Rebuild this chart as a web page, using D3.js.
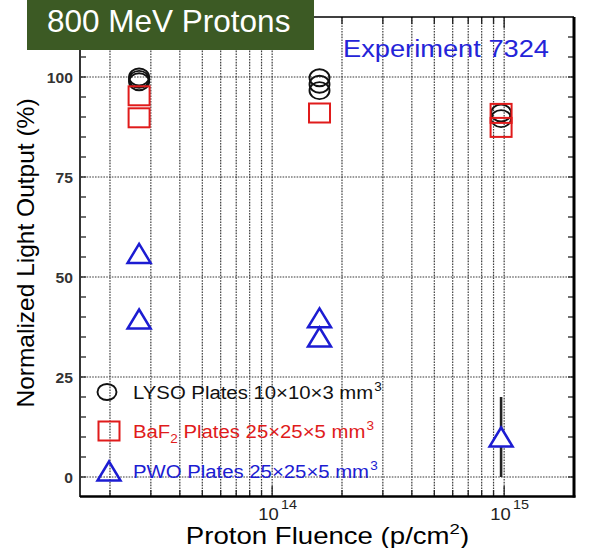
<!DOCTYPE html>
<html>
<head>
<meta charset="utf-8">
<script src="https://cdn.jsdelivr.net/npm/d3@7"></script>
<style>
  body { margin: 0; background: #fff; }
  svg { display: block; }
  text { font-family: "Liberation Sans", Arial, Helvetica, sans-serif; }
</style>
</head>
<body>
<svg id="chart" width="602" height="548"></svg>
<script>
// Normalized light output of crystal plates vs. 800 MeV proton fluence
const lysoFluence = [2.67e13, 2.67e13, 2.67e13, 1.6e14, 1.6e14, 1.6e14, 9.7e14, 9.7e14];
const lysoOutput  = [100, 99.4, 98.8, 99.8, 98.2, 96.6, 91.0, 89.6];

const bafFluence  = [2.67e13, 2.67e13, 1.6e14, 9.7e14, 9.7e14];
const bafOutput   = [95.3, 89.8, 91.0, 90.9, 87.4];

const pwoFluence  = [2.67e13, 2.67e13, 1.6e14, 1.6e14, 9.7e14];
const pwoOutput   = [55.9, 39.5, 39.8, 35.0, 10.0];
const pwoError    = [0, 0, 0, 0, 10];

const yTickValues = [0, 25, 50, 75, 100];
const xDecades    = [1e14, 1e15];
const xDecadeExp  = ["14", "15"];

const seriesNames = ["LYSO", "BaF", "PWO"];

const svg = d3.select("#chart");
const x = d3.scaleLog().domain([1.5e13, 2e15]).range([81, 574]);
const y = d3.scaleLinear().domain([-5, 115]).range([497, 17]);
const [x0, x1] = x.range();
const [yb, yt] = y.range();

const gridColor = "#3a3a3a";
const black = "#111";
const red = "#e01b1b";
const blue = "#1c1cd2";

// ---- grid ----
const xGrid = x.ticks().filter(v => v > x.domain()[0] && v < x.domain()[1] * 0.999);
const grid = svg.append("g");
grid.selectAll("line.vx").data(xGrid).join("line")
  .attr("x1", d => x(d)).attr("x2", d => x(d))
  .attr("y1", yt).attr("y2", yb)
  .attr("stroke", gridColor).attr("stroke-width", 1.2).attr("stroke-dasharray", "1.6,1.2");
grid.selectAll("line.hy").data(yTickValues).join("line")
  .attr("x1", x0).attr("x2", x1)
  .attr("y1", d => y(d)).attr("y2", d => y(d))
  .attr("stroke", gridColor).attr("stroke-width", 1.2).attr("stroke-dasharray", "1.6,1.2");

// ---- tick marks (inward) ----
const ticks = svg.append("g").attr("stroke", "#222").attr("stroke-width", 1.3);
const yMinor = d3.range(0, 115, 5);
ticks.selectAll("line.yl").data(yMinor).join("line")
  .attr("x1", x0).attr("x2", x0 + 5).attr("y1", d => y(d)).attr("y2", d => y(d));
ticks.selectAll("line.yr").data(yMinor).join("line")
  .attr("x1", x1).attr("x2", x1 - 6).attr("y1", d => y(d)).attr("y2", d => y(d));
const isDecade = v => Math.abs(Math.log10(v) - Math.round(Math.log10(v))) < 1e-9;
ticks.selectAll("line.xb").data(xGrid).join("line")
  .attr("x1", d => x(d)).attr("x2", d => x(d))
  .attr("y1", yb).attr("y2", d => yb - (isDecade(d) ? 11 : 7));
ticks.selectAll("line.xt").data(xGrid).join("line")
  .attr("x1", d => x(d)).attr("x2", d => x(d))
  .attr("y1", yt).attr("y2", d => yt + (isDecade(d) ? 11 : 7));

// ---- frame ----
const frame = svg.append("g").attr("stroke", "#000").attr("fill", "none");
frame.append("line").attr("x1", x0 - 1).attr("x2", x0 - 1).attr("y1", yt).attr("y2", yb).attr("stroke-width", 1.6);
frame.append("line").attr("x1", x0 - 1).attr("x2", x1).attr("y1", yt).attr("y2", yt).attr("stroke-width", 1.6);
frame.append("line").attr("x1", x1).attr("x2", x1).attr("y1", yt).attr("y2", yb + 0.5).attr("stroke-width", 3);
frame.append("line").attr("x1", x0 - 1).attr("x2", x1 + 1.5).attr("y1", yb - 0.5).attr("y2", yb - 0.5).attr("stroke-width", 2.6);

// ---- marker shapes ----
const triPath = "M0,-9.5L11.5,9.5L-11.5,9.5Z";

// error bars
const pwo = pwoFluence.map((f, i) => ({ f, v: pwoOutput[i], e: pwoError[i] }));
svg.append("g").selectAll("line").data(pwo.filter(d => d.e > 0)).join("line")
  .attr("x1", d => x(d.f)).attr("x2", d => x(d.f))
  .attr("y1", d => y(d.v - d.e)).attr("y2", d => y(d.v + d.e))
  .attr("stroke", "#222").attr("stroke-width", 2.6);

// LYSO circles
svg.append("g").selectAll("ellipse").data(lysoFluence.map((f, i) => ({ f, v: lysoOutput[i] }))).join("ellipse")
  .attr("cx", d => x(d.f)).attr("cy", d => y(d.v))
  .attr("rx", 10).attr("ry", 8.5)
  .attr("fill", "none").attr("stroke", black).attr("stroke-width", 1.9);

// BaF2 squares
svg.append("g").selectAll("rect").data(bafFluence.map((f, i) => ({ f, v: bafOutput[i] }))).join("rect")
  .attr("x", d => x(d.f) - 10.5).attr("y", d => y(d.v) - 9.5)
  .attr("width", 21).attr("height", 19)
  .attr("fill", "none").attr("stroke", red).attr("stroke-width", 2);

// PWO triangles
svg.append("g").selectAll("path").data(pwo).join("path")
  .attr("d", triPath)
  .attr("transform", d => `translate(${x(d.f)},${y(d.v)})`)
  .attr("fill", "#fff").attr("stroke", blue).attr("stroke-width", 2.5);

// ---- stretched text helper ----
function stext(px, py, sx, opts) {
  const g = svg.append("g").attr("transform", `translate(${px},${py}) scale(${sx},1)`);
  const t = g.append("text")
    .attr("font-size", opts.size)
    .attr("fill", opts.fill || "#000")
    .attr("text-anchor", opts.anchor || "start");
  if (opts.weight) t.attr("font-weight", opts.weight);
  return t;
}

// ---- y tick labels ----
yTickValues.forEach(v => {
  stext(73, y(v) + 6, 1.12, { size: 14, fill: "#333", anchor: "end", weight: "bold" }).text(v);
});

// ---- x tick labels ----
xDecades.forEach((v, i) => {
  const t = stext(x(v) - 14, 519.5, 1.15, { size: 16, fill: "#222" });
  t.append("tspan").text("10");
  t.append("tspan").attr("dx", 2).attr("dy", -11).attr("font-size", 12.5).text(xDecadeExp[i]);
});

// ---- axis titles ----
const xt = stext(327.5, 544, 1.2, { size: 23, anchor: "middle" });
xt.append("tspan").text("Proton Fluence (p/cm");
xt.append("tspan").attr("dy", -10).attr("font-size", 15.5).text("2");
xt.append("tspan").attr("dy", 10).text(")");

svg.append("text")
  .attr("transform", "translate(34,253) rotate(-90)")
  .attr("text-anchor", "middle")
  .attr("font-size", 24.5)
  .attr("fill", "#000")
  .text("Normalized Light Output (%)");

// ---- legend ----
const legendX = 109;
const legendRows = [392, 431, 471];
svg.append("ellipse").attr("cx", legendX - 2).attr("cy", legendRows[0]).attr("rx", 9.5).attr("ry", 8)
  .attr("fill", "none").attr("stroke", black).attr("stroke-width", 1.9);
svg.append("rect").attr("x", legendX - 10.5).attr("y", legendRows[1] - 9.5).attr("width", 21).attr("height", 19)
  .attr("fill", "none").attr("stroke", red).attr("stroke-width", 2);
svg.append("path").attr("d", triPath).attr("transform", `translate(${legendX},${legendRows[2]})`)
  .attr("fill", "none").attr("stroke", blue).attr("stroke-width", 2.5);

const l1 = stext(133, legendRows[0] + 6.5, 1.13, { size: 18, fill: black });
l1.append("tspan").text(seriesNames[0] + " Plates 10×10×3 mm");
l1.append("tspan").attr("dx", 1).attr("dy", -8).attr("font-size", 12).text("3");

const l2 = stext(133, legendRows[1] + 7, 1.13, { size: 18, fill: red });
l2.append("tspan").text(seriesNames[1]);
l2.append("tspan").attr("dy", 5).attr("font-size", 12).text("2");
l2.append("tspan").attr("dy", -5).text(" Plates 25×25×5 mm");
l2.append("tspan").attr("dx", 1).attr("dy", -8).attr("font-size", 12).text("3");

const l3 = stext(133, legendRows[2] + 7, 1.13, { size: 18, fill: blue });
l3.append("tspan").text(seriesNames[2] + " Plates 25×25×5 mm");
l3.append("tspan").attr("dx", 1).attr("dy", -8).attr("font-size", 12).text("3");

// ---- annotation ----
stext(343, 57, 1.16, { size: 23.5, fill: "#2424d8" }).text("Experiment 7324");

// ---- title banner ----
svg.append("rect").attr("x", 27).attr("y", 0).attr("width", 287).attr("height", 50).attr("fill", "#3c5a24");
svg.append("text").attr("x", 47).attr("y", 31.5).attr("font-size", 31.5).attr("fill", "#fff")
  .text("800 MeV Protons");
</script>
</body>
</html>
